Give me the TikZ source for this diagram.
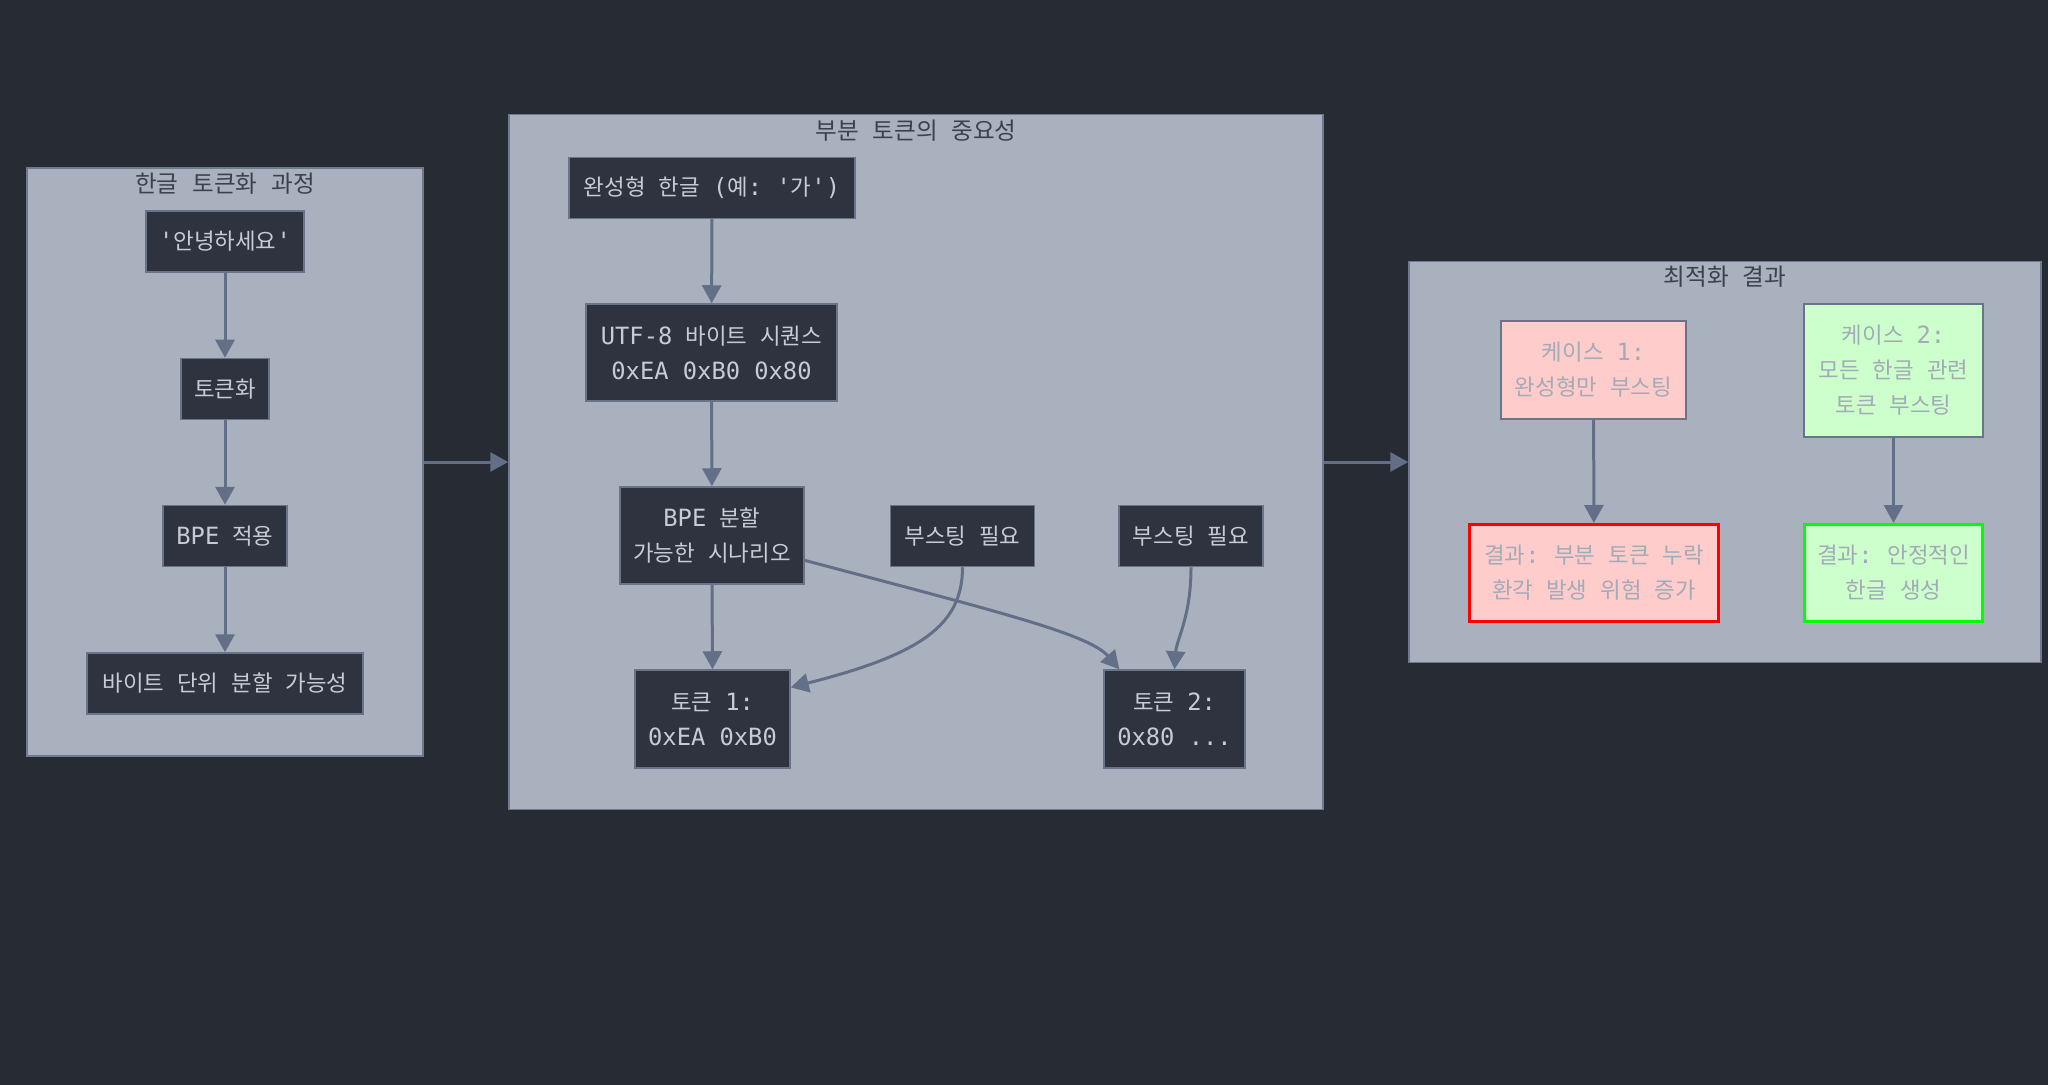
\documentclass[tikz,border=0pt]{standalone}
\usepackage{fontspec}
\setmainfont[WordSpace=2.6]{Noto Sans CJK KR}
\setmonofont[Scale=1.06]{DejaVu Sans Mono}
\usetikzlibrary{arrows.meta,positioning}

\definecolor{bgc}{HTML}{272B34}
\definecolor{grpbg}{HTML}{AAB1BE}
\definecolor{grpline}{HTML}{6F7A8F}
\definecolor{grptxt}{HTML}{3B414D}
\definecolor{nodebg}{HTML}{2F333F}
\definecolor{nodeline}{HTML}{6A7489}
\definecolor{nodetxt}{HTML}{C6CBD4}
\definecolor{arrowc}{HTML}{636E87}
\definecolor{softtxt}{HTML}{A3AAB8}

\begin{document}
\begin{tikzpicture}[x=0.5pt, y=-0.5pt,
  grp/.style={rectangle, draw=grpline, fill=grpbg, line width=0.75pt, inner sep=0pt},
  ttl/.style={text=grptxt, font=\fontsize{11.8}{13}\selectfont, inner sep=0pt},
  box/.style={rectangle, draw=nodeline, fill=nodebg, text=nodetxt, line width=0.75pt, minimum height=30.5pt, inner sep=0pt, align=center, font=\fontsize{11.2}{17.5}\selectfont},
  redbox/.style={box, fill=red!20, text=softtxt},
  greenbox/.style={box, fill=green!20, text=softtxt},
  arrow/.style={-{Triangle[length=9pt,width=9.5pt]}, line width=1.5pt, draw=arrowc}
]
% background
\fill[bgc] (0,0) rectangle (2048,1085);

% groups
\node[grp, minimum width=198pt, minimum height=294pt] (g1) at (225,462) {};
\node[grp, minimum width=407pt, minimum height=347.5pt] (g2) at (916,462) {};
\node[grp, minimum width=316pt, minimum height=200.5pt] (g3) at (1725,462) {};
\node[ttl] (t1) at (225,184) {한글 토큰화 과정};
\node[ttl] (t2) at (916,131) {부분 토큰의 중요성};
\node[ttl] (t3) at (1725,277) {최적화 결과};

% tokenization steps
\node[box, minimum width=79pt] (hello) at (225,241.5) {\texttt{'}안녕하세요\texttt{'}};
\node[box, minimum width=44pt] (tok) at (225,389) {토큰화};
\node[box, minimum width=62pt] (bpe) at (225,536) {\texttt{BPE} 적용};
\node[box, minimum width=138pt] (byte) at (225,683.5) {바이트 단위 분할 가능성};

% partial tokens
\node[box, minimum width=143pt] (full) at (712,188) {완성형 한글 \texttt{(}예\texttt{: '}가\texttt{')}};
\node[box, minimum width=125.5pt, minimum height=48.5pt] (utf) at (711.5,352.5) {\texttt{UTF-8} 바이트 시퀀스\\\texttt{0xEA 0xB0 0x80}};
\node[box, minimum width=92pt, minimum height=48.5pt] (split) at (712,535.5) {\texttt{BPE} 분할\\가능한 시나리오};
\node[box, minimum width=72pt] (boostA) at (962.5,536) {부스팅 필요};
\node[box, minimum width=72pt] (boostB) at (1191,536) {부스팅 필요};
\node[box, minimum width=77.5pt, minimum height=49pt] (tokA) at (712.5,719) {토큰 \texttt{1:}\\\texttt{0xEA 0xB0}};
\node[box, minimum width=70.5pt, minimum height=49pt] (tokB) at (1174.5,719) {토큰 \texttt{2:}\\\texttt{0x80 ...}};

% results
\node[redbox, minimum width=92.5pt, minimum height=49pt] (caseA) at (1593.5,370) {케이스 \texttt{1:}\\완성형만 부스팅};
\node[greenbox, minimum width=89.5pt, minimum height=66.5pt] (caseB) at (1893.5,370.5) {케이스 \texttt{2:}\\모든 한글 관련\\토큰 부스팅};
\node[redbox, draw=red, line width=1.5pt, minimum width=124.5pt, minimum height=48.5pt] (resA) at (1594,573) {결과\texttt{:} 부분 토큰 누락\\환각 발생 위험 증가};
\node[greenbox, draw=green, line width=1.5pt, minimum width=89pt, minimum height=48.5pt] (resB) at (1893.5,573) {결과\texttt{:} 안정적인\\한글 생성};

% arrows
\draw[arrow] (hello) -- (tok);
\draw[arrow] (tok) -- (bpe);
\draw[arrow] (bpe) -- (byte);
\draw[arrow] (g1) -- (g2);
\draw[arrow] (g2) -- (g3);
\draw[arrow] (full) -- (utf);
\draw[arrow] (utf) -- (split);
\draw[arrow] (split.south) -- (tokA.north);
\draw[arrow] (split.-15) .. controls +(196,52) and +(-30,-35) .. (tokB.138);
\draw[arrow] (boostA.south) .. controls +(0,58) and +(130,-33) .. (tokA.22);
\draw[arrow] (boostB.south) .. controls +(0,50) and +(2,-30) .. (tokB.north);
\draw[arrow] (caseA) -- (resA);
\draw[arrow] (caseB) -- (resB);

\end{tikzpicture}
\end{document}
